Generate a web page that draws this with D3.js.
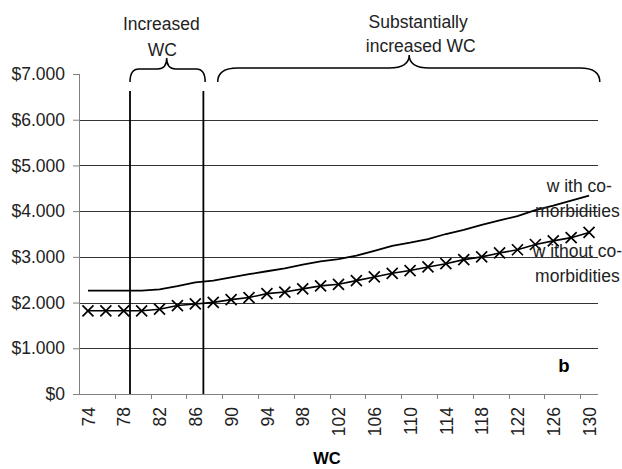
<!DOCTYPE html>
<html>
<head>
<meta charset="utf-8">
<script src="https://cdn.jsdelivr.net/npm/d3@7"></script>
<style>
  body { margin: 0; background: #fff; }
  svg { display: block; font-family: "Liberation Sans", Arial, sans-serif; }
</style>
</head>
<body>
<div id="chart"></div>
<script>
// categories (waist circumference, cm)
var wc = [74, 76, 78, 80, 82, 84, 86, 88, 90, 92, 94, 96, 98, 100, 102, 104,
          106, 108, 110, 112, 114, 116, 118, 120, 122, 124, 126, 128, 130];
// costs, with co-morbidities (plain line)
var withCo = [2260, 2260, 2260, 2260, 2290, 2360, 2440, 2480, 2550, 2620, 2685, 2750, 2830, 2900, 2950, 3025,
              3130, 3240, 3310, 3390, 3500, 3590, 3700, 3800, 3890, 4020, 4120, 4230, 4340];
// costs, without co-morbidities (x markers)
var withoutCo = [1820, 1820, 1820, 1820, 1855, 1935, 1970, 2005, 2065, 2110, 2195, 2230, 2300, 2365, 2400, 2480,
                 2560, 2640, 2700, 2780, 2850, 2940, 3000, 3085, 3155, 3270, 3350, 3420, 3535];
var xTickLabels = [74, 78, 82, 86, 90, 94, 98, 102, 106, 110, 114, 118, 122, 126, 130];
var yTicks = [0, 1000, 2000, 3000, 4000, 5000, 6000, 7000];
// WC cut-offs of the two marked regions
var cutoffs = [78.7, 86.9];

var W = 622, H = 469;
var margin = { top: 74, right: 24, bottom: 75, left: 79 },
    width = W - margin.left - margin.right,
    height = H - margin.top - margin.bottom;

var svg = d3.select("#chart").append("svg")
    .attr("width", W)
    .attr("height", H);

var g = svg.append("g")
    .attr("transform", "translate(" + margin.left + "," + margin.top + ")");

// category axis: each category is 2 cm wide, centred on its value
var x = d3.scaleLinear()
    .domain([wc[0] - 1, wc[wc.length - 1] + 1])
    .range([0, width]);

var y = d3.scaleLinear()
    .domain([0, 7000])
    .range([height, 0]);

var fmt = function (d) { return "$" + d3.format(",")(d).replace(/,/g, "."); };

// gridlines
g.append("g")
    .selectAll("line")
    .data(yTicks.filter(function (d) { return d > 0 && d < 7000; }))
    .enter().append("line")
    .attr("x1", 0)
    .attr("x2", width)
    .attr("y1", function (d) { return Math.round(y(d)) + 0.5; })
    .attr("y2", function (d) { return Math.round(y(d)) + 0.5; })
    .attr("stroke", "#333")
    .attr("stroke-width", 1);

// y axis
var yAxis = g.append("g")
    .call(d3.axisLeft(y).tickValues(yTicks).tickSize(6).tickPadding(8).tickFormat(fmt));
yAxis.select(".domain").attr("stroke", "#808080").attr("d", "M0.5," + y(7000) + "V" + height);
yAxis.selectAll(".tick line").attr("stroke", "#808080");
yAxis.selectAll("text")
    .attr("fill", "#222")
    .style("font-size", "17.5px");

// x axis (labels at category centres, ticks every second category boundary)
var xAxis = g.append("g")
    .attr("transform", "translate(0," + height + ")")
    .call(d3.axisBottom(x).tickValues(xTickLabels).tickSize(0).tickPadding(0));
xAxis.select(".domain").attr("stroke", "#808080").attr("d", "M0,0.5H" + width);
xAxis.selectAll("text")
    .attr("fill", "#222")
    .style("font-size", "17.5px")
    .attr("text-anchor", "end")
    .attr("transform", "translate(0,13) rotate(-90)")
    .attr("x", 0)
    .attr("y", 0)
    .attr("dy", "0.35em");

var boundaries = wc.filter(function (d, i) { return i % 2 === 0 && i > 0; })
    .map(function (d) { return d - 1; });
g.append("g")
    .selectAll("line")
    .data(boundaries)
    .enter().append("line")
    .attr("x1", function (d) { return Math.round(x(d)) + 0.5; })
    .attr("x2", function (d) { return Math.round(x(d)) + 0.5; })
    .attr("y1", height)
    .attr("y2", height + 5)
    .attr("stroke", "#808080");

// region cut-off lines
g.append("g")
    .selectAll("line")
    .data(cutoffs)
    .enter().append("line")
    .attr("x1", function (d) { return x(d); })
    .attr("x2", function (d) { return x(d); })
    .attr("y1", y(6630))
    .attr("y2", height)
    .attr("stroke", "#000")
    .attr("stroke-width", 1.8);

// series
var line = d3.line()
    .x(function (d, i) { return x(wc[i]); })
    .y(function (d) { return y(d); });

g.append("path")
    .datum(withCo)
    .attr("fill", "none")
    .attr("stroke", "#000")
    .attr("stroke-width", 1.8)
    .attr("d", line);

g.append("path")
    .datum(withoutCo)
    .attr("fill", "none")
    .attr("stroke", "#000")
    .attr("stroke-width", 1.6)
    .attr("d", line);

var s = 5.5;
g.append("g")
    .selectAll("path")
    .data(withoutCo)
    .enter().append("path")
    .attr("transform", function (d, i) { return "translate(" + x(wc[i]) + "," + y(d) + ")"; })
    .attr("d", "M" + (-s) + "," + (-s) + "L" + s + "," + s + "M" + (-s) + "," + s + "L" + s + "," + (-s))
    .attr("stroke", "#000")
    .attr("stroke-width", 1.7)
    .attr("fill", "none");

// curly braces above the plot
function brace(x1, x2, xm, yEnd, yBar, yTip, r) {
    return "M" + x1 + "," + yEnd +
        " Q" + x1 + "," + yBar + " " + (x1 + r) + "," + yBar +
        " L" + (xm - r) + "," + yBar +
        " Q" + xm + "," + yBar + " " + xm + "," + yTip +
        " Q" + xm + "," + yBar + " " + (xm + r) + "," + yBar +
        " L" + (x2 - r) + "," + yBar +
        " Q" + x2 + "," + yBar + " " + x2 + "," + yEnd;
}

svg.append("path")
    .attr("d", brace(margin.left + x(78.7), margin.left + x(87.1), margin.left + x(82.8), 82, 69, 58, 9))
    .attr("fill", "none")
    .attr("stroke", "#000")
    .attr("stroke-width", 1.5);

svg.append("path")
    .attr("d", brace(margin.left + x(88.5), margin.left + x(131.2), margin.left + x(109.9), 82, 68, 55, 20))
    .attr("fill", "none")
    .attr("stroke", "#000")
    .attr("stroke-width", 1.5);

// annotations
function note(txt, cx, cy, opts) {
    opts = opts || {};
    svg.append("text")
        .attr("x", cx)
        .attr("y", cy)
        .attr("dy", "0.35em")
        .attr("text-anchor", "middle")
        .attr("fill", opts.fill || "#222")
        .style("font-size", (opts.size || 17.5) + "px")
        .style("font-weight", opts.bold ? "bold" : "normal")
        .text(txt);
}

note("Increased", margin.left + x(82.2), 24);
note("WC", margin.left + x(82.3), 50);
note("Substantially", margin.left + x(110.9), 22);
note("increased WC", margin.left + x(111.2), 46);

note("w ith co-", margin.left + x(128.9), 186);
note("morbidities", margin.left + x(128.7), 211);
note("w ithout co-", margin.left + x(128.7), 251);
note("morbidities", margin.left + x(128.7), 276);

note("b", margin.left + x(127.2), 366, { bold: true, size: 18.5, fill: "#000" });
note("WC", 327, 458, { bold: true, size: 16.5, fill: "#000" });
</script>
</body>
</html>
